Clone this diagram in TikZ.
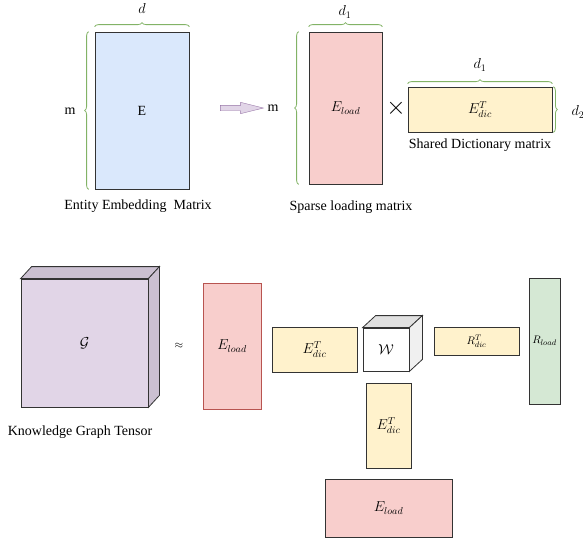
\documentclass[tikz,border=0pt]{standalone}
\usepackage{fontspec}
\setmainfont{Liberation Serif}
\usetikzlibrary{positioning,decorations.pathreplacing,shapes.arrows}

\definecolor{blueFill}{HTML}{DAE8FC}
\definecolor{redFill}{HTML}{F8CECC}
\definecolor{redLine}{HTML}{B85450}
\definecolor{yellowFill}{HTML}{FFF2CC}
\definecolor{greenFill}{HTML}{D5E8D4}
\definecolor{purpleFill}{HTML}{E1D5E7}
\definecolor{purpleDark}{HTML}{CBC0D1}
\definecolor{purpleLine}{HTML}{9673A6}
\definecolor{braceGreen}{HTML}{82B366}

\begin{document}
\begin{tikzpicture}[x=1pt, y=-1pt, font=\fontsize{14}{16}\selectfont,
        mat/.style={draw=black!80, line width=0.8pt, inner sep=0pt},
        face/.style={draw=black!80, line width=0.8pt},
        brace/.style={draw=braceGreen, line width=0.8pt, decorate,
            decoration={brace, amplitude=4pt}},
        smalltext/.style={font=\fontsize{11}{13}\selectfont}]
        \useasboundingbox (0,0) rectangle (583,542);

        % entity embedding matrix
        \node[mat, fill=blueFill, minimum width=94pt, minimum height=157pt] (E) at (142, 110.5) {E};
        \draw[brace] ([yshift=5pt]E.north west) -- ([yshift=5pt]E.north east);
        \draw[brace] ([xshift=-6pt]E.south west) -- ([xshift=-6pt]E.north west);
        \node (dE) at (142, 8) {$d$};
        \node (mE) at (70, 111) {m};
        \node (capE) at (138, 206) {Entity Embedding~~Matrix};

        \node[single arrow, draw=purpleLine, fill=purpleFill, minimum height=43pt,
            inner sep=2.5pt, single arrow head extend=3pt,
            single arrow tip angle=28] (toArrow) at (236.5, 108) {};

        % sparse loading x shared dictionary
        \node (mLoad) at (273, 108) {m};
        \node[mat, fill=redFill, minimum width=73pt, minimum height=152pt] (Eload1) at (345.5, 108) {$E_{load}$};
        \draw[brace] ([yshift=5pt]Eload1.north west) -- ([yshift=5pt]Eload1.north east);
        \draw[brace] ([xshift=-10pt]Eload1.south west) -- ([xshift=-10pt]Eload1.north west);
        \node (dLoad) at (345, 12) {$d_1$};
        \node (capLoad) at (351, 207) {Sparse loading matrix};

        \node[font=\fontsize{30}{30}\selectfont] (times) at (396, 108) {$\times$};

        \node[mat, fill=yellowFill, minimum width=144pt, minimum height=45pt] (Edic1) at (480, 109.5) {$E_{dic}^{T}$};
        \draw[brace] ([yshift=3pt]Edic1.north west) -- ([yshift=3pt]Edic1.north east);
        \draw[brace] ([xshift=1pt]Edic1.north east) -- ([xshift=1pt]Edic1.south east);
        \node (dDicTop) at (480, 65) {$d_1$};
        \node[anchor=west] (dDicSide) at (568, 112) {$d_2$};
        \node (capDic) at (480, 145) {Shared Dictionary matrix};

        % knowledge graph tensor
        \node[mat, fill=purpleFill, minimum width=127pt, minimum height=128pt] (G) at (84.5, 343) {$\mathcal{G}$};
        \filldraw[face, fill=purpleDark] (G.north west) -- ([shift={(11,-12)}]G.north west)
            -- ([shift={(11,-12)}]G.north east) -- (G.north east) -- cycle;
        \filldraw[face, fill=purpleDark] (G.north east) -- ([shift={(11,-12)}]G.north east)
            -- ([shift={(11,-12)}]G.south east) -- (G.south east) -- cycle;
        \node (capG) at (80, 432) {Knowledge Graph Tensor};

        \node[smalltext] (approx) at (179, 346) {$\approx$};

        \node[mat, draw=redLine, fill=redFill, minimum width=58pt, minimum height=126pt] (Eload2) at (232, 346) {$E_{load}$};
        \node[mat, fill=yellowFill, minimum width=85pt, minimum height=45pt] (Edic2) at (314.5, 349.5) {$E_{dic}^{T}$};

        % core tensor
        \node[mat, fill=white, minimum width=46pt, minimum height=43pt] (W) at (386, 349.5) {$\mathcal{W}$};
        \filldraw[face, fill=black!12] (W.north west) -- ([shift={(13,-12)}]W.north west)
            -- ([shift={(13,-12)}]W.north east) -- (W.north east) -- cycle;
        \filldraw[face, fill=black!6] (W.north east) -- ([shift={(13,-12)}]W.north east)
            -- ([shift={(13,-12)}]W.south east) -- (W.south east) -- cycle;

        \node[mat, fill=yellowFill, minimum width=85pt, minimum height=28pt, smalltext] (Rdic) at (476.5, 341) {$R_{dic}^{T}$};
        \node[mat, fill=greenFill, minimum width=31pt, minimum height=126pt, smalltext] (Rload) at (544.5, 341) {$R_{load}$};

        \node[mat, fill=yellowFill, minimum width=45pt, minimum height=85pt] (Edic3) at (388.5, 425.5) {$E_{dic}^{T}$};
        \node[mat, fill=redFill, minimum width=127pt, minimum height=58pt] (Eload3) at (388.5, 508) {$E_{load}$};
    \end{tikzpicture}
\end{document}
